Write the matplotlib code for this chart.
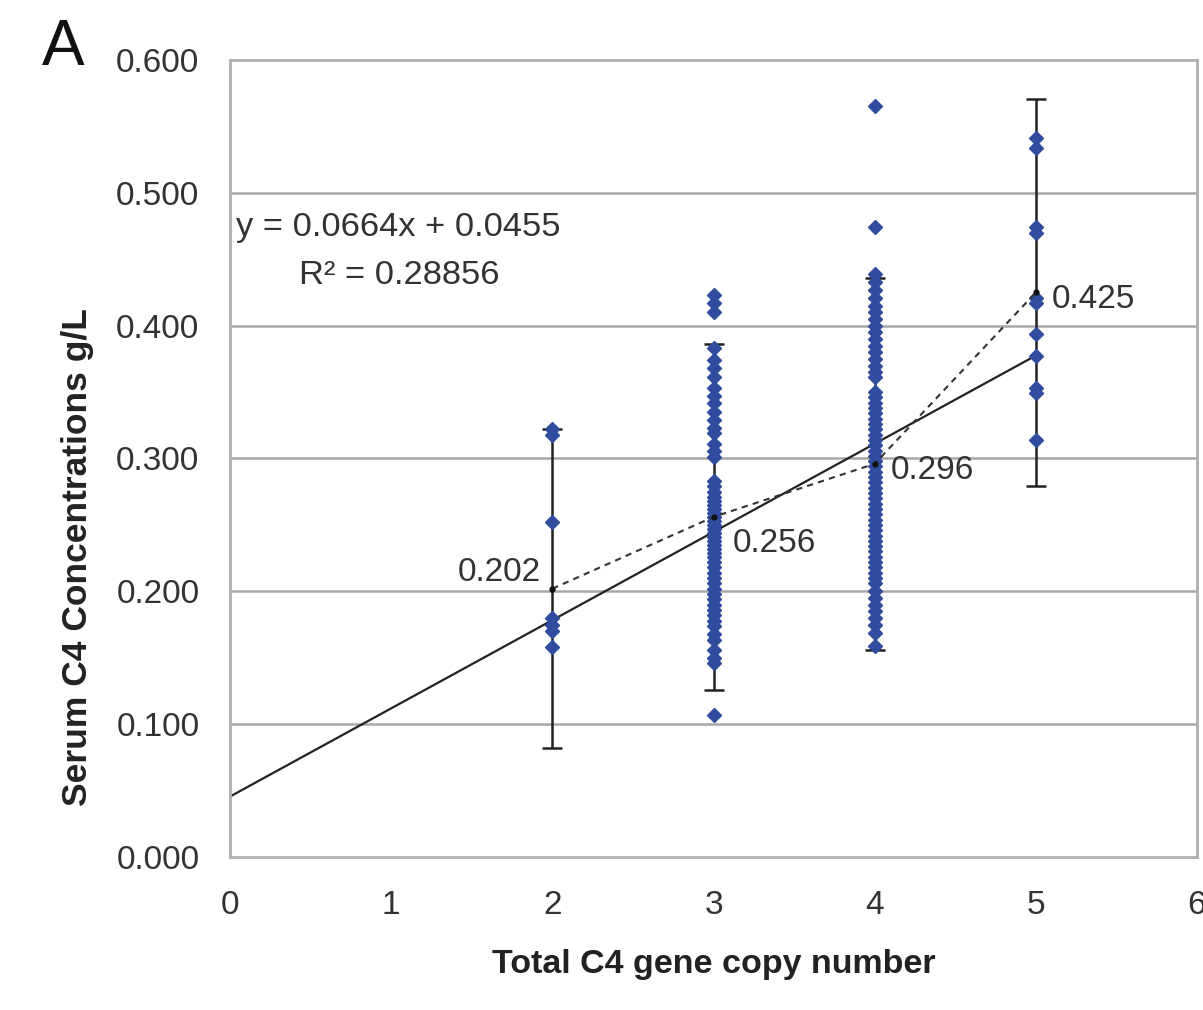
import matplotlib
matplotlib.use("Agg")
import matplotlib.pyplot as plt
from matplotlib import font_manager

names = {f.name for f in font_manager.fontManager.ttflist}
narrow = "Liberation Sans Narrow" if "Liberation Sans Narrow" in names else "Liberation Sans"

# ---- data ----
copy_numbers = [2, 3, 4, 5]
group_means = [0.202, 0.256, 0.296, 0.425]
group_err = [0.120, 0.130, 0.140, 0.146]
mean_labels = ["0.202", "0.256", "0.296", "0.425"]

g2 = [0.322, 0.318, 0.252, 0.180, 0.175, 0.170, 0.158]
g3 = [0.423, 0.417, 0.410, 0.383, 0.374, 0.368, 0.361, 0.353, 0.347, 0.342,
      0.335, 0.329, 0.323, 0.319, 0.311, 0.306, 0.301, 0.283, 0.279, 0.275,
      0.271, 0.268, 0.265, 0.262, 0.259, 0.256, 0.253, 0.250, 0.247, 0.244,
      0.241, 0.238, 0.235, 0.232, 0.229, 0.226, 0.222, 0.218, 0.214, 0.210,
      0.206, 0.202, 0.198, 0.194, 0.190, 0.186, 0.182, 0.178, 0.174, 0.168,
      0.163, 0.156, 0.150, 0.146, 0.107]
g4 = [0.565, 0.474, 0.439, 0.433, 0.427, 0.421, 0.415, 0.410, 0.405, 0.400,
      0.395, 0.390, 0.385, 0.380, 0.375, 0.370, 0.365, 0.361, 0.350, 0.346,
      0.342, 0.338, 0.334, 0.330, 0.326, 0.322, 0.318, 0.314, 0.310, 0.306,
      0.302, 0.298, 0.294, 0.290, 0.286, 0.282, 0.278, 0.274, 0.270, 0.266,
      0.262, 0.258, 0.254, 0.250, 0.246, 0.242, 0.238, 0.234, 0.230, 0.226,
      0.222, 0.218, 0.214, 0.210, 0.206, 0.200, 0.195, 0.190, 0.185, 0.180,
      0.175, 0.169, 0.159]
g5 = [0.541, 0.534, 0.474, 0.470, 0.421, 0.417, 0.394, 0.377, 0.353, 0.349, 0.314]
groups = [g2, g3, g4, g5]

slope, intercept = 0.0664, 0.0455
fit_x = [0, 5]
eq_text = "y = 0.0664x + 0.0455"
r2_text = "R² = 0.28856"

x_ticks = [0, 1, 2, 3, 4, 5, 6]
y_ticks = [0.0, 0.1, 0.2, 0.3, 0.4, 0.5, 0.6]

# ---- figure ----
fig = plt.figure(figsize=(12.03, 10.10), dpi=100)
ax = fig.add_axes([230/1203, 1 - 857/1010, (1197-230)/1203, (857-60)/1010])
ax.set_xlim(0, 6)
ax.set_ylim(0, 0.6)

for y in y_ticks[1:-1]:
    ax.axhline(y, color="#a8a8a8", lw=1.8, zorder=0)
for s in ax.spines.values():
    s.set_color("#b0b0b0")
    s.set_linewidth(2)

blue = "#2f4c9e"
for xv, vals in zip(copy_numbers, groups):
    ax.plot([xv]*len(vals), vals, ls="none", marker="D", ms=7,
            mfc=blue, mec=blue, zorder=3)

ax.errorbar(copy_numbers, group_means, yerr=group_err, fmt="none",
            ecolor="#222222", elinewidth=1.8, capsize=7, capthick=1.8, zorder=2)
ax.plot(copy_numbers, group_means, ls=(0, (3, 2.5)), color="#333333", lw=1.5,
        marker="o", ms=3.5, mfc="#111111", mec="#111111", zorder=4)

fx = fit_x
fy = [slope*v + intercept for v in fx]
ax.plot(fx, fy, color="#222222", lw=1.6, zorder=2)

tc = "#333333"
offsets = [(-0.07, 0.012, "right"), (0.12, -0.02, "left"),
           (0.10, -0.005, "left"), (0.10, -0.005, "left")]
for xv, yv, lab, (dx, dy, ha) in zip(copy_numbers, group_means, mean_labels, offsets):
    ax.text(xv + dx, yv + dy, lab, ha=ha, va="center", fontsize=24,
            family=narrow, color=tc, zorder=5)

ax.text(0.04, 0.474, eq_text, ha="left", va="center", fontsize=24.8,
        family=narrow, color=tc)
ax.text(0.43, 0.438, r2_text, ha="left", va="center", fontsize=24.8,
        family=narrow, color=tc)

ax.set_xticks(x_ticks)
ax.set_xticklabels([str(v) for v in x_ticks])
ax.set_yticks(y_ticks)
ax.set_yticklabels([f"{v:.3f}" for v in y_ticks])
ax.tick_params(length=0, labelsize=24, colors=tc)
ax.tick_params(axis="y", pad=22)
ax.tick_params(axis="x", pad=24)
for lab in ax.get_xticklabels() + ax.get_yticklabels():
    lab.set_family(narrow)

ax.set_xlabel("Total C4 gene copy number", fontsize=24.5, fontweight="bold",
              family=narrow, color="#222222", labelpad=20)
ax.set_ylabel("Serum C4 Concentrations g/L", fontsize=25.5, fontweight="bold",
              family=narrow, color="#222222")
ax.yaxis.set_label_coords(-0.141, 0.376)

fig.text(42/1203, 1 - 48/1010, "A", fontsize=46, family=narrow,
         color="#111111", ha="left", va="center")

fig.savefig("out.png", dpi=100, facecolor="white")
